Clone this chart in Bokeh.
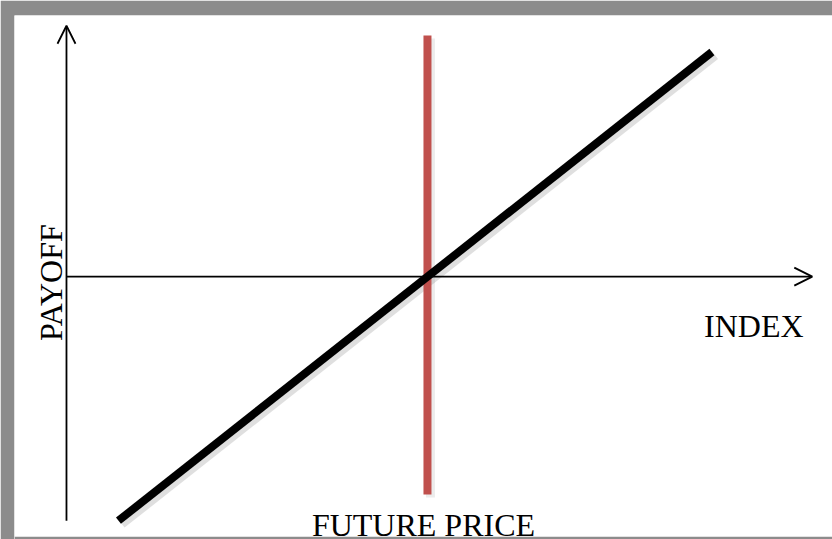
from bokeh.plotting import figure
from bokeh.models import Range1d, Arrow, OpenHead, BoxAnnotation
from bokeh.embed import file_html
from bokeh.resources import INLINE
from bokeh.core.properties import value
import numpy as np

# ---- data (conceptual units) ----
future_price = 50.0
index_axis = [0.0, 103.3]          # horizontal axis extent (INDEX)
payoff_axis = [-42.8, 44.0]        # vertical axis extent (PAYOFF)
payoff_index = [7.2, 89.4]         # long-future payoff line, index values
payoff_values = [p - future_price for p in payoff_index]
price_line_payoff = [-38.2, 42.3]  # extent of the future-price marker
labels = ["INDEX", "FUTURE PRICE", "PAYOFF"]

SX = 7.22  # px per index unit
SY = 5.70  # px per payoff unit

p = figure(width=832, height=539, output_backend="svg", toolbar_location=None,
           x_range=Range1d(-7.2, 106.1), y_range=Range1d(-46.1, 45.8),
           min_border_left=14, min_border_top=15, min_border_right=0, min_border_bottom=0)
p.axis.visible = False
p.grid.visible = False
p.outline_line_color = None
p.border_fill_color = "#8c8c8c"
p.background_fill_color = "white"

# bottom frame strip
p.add_layout(BoxAnnotation(top=-45.6, fill_color="#8c8c8c", fill_alpha=1.0, line_color=None))

# axes with arrow heads
p.add_layout(Arrow(end=OpenHead(size=18, line_width=1.8, line_color="black"),
                   x_start=index_axis[0], y_start=0, x_end=index_axis[1], y_end=0,
                   line_width=1.8, line_color="black"))
p.add_layout(Arrow(end=OpenHead(size=18, line_width=1.8, line_color="black"),
                   x_start=0, y_start=payoff_axis[0], x_end=0, y_end=payoff_axis[1],
                   line_width=1.8, line_color="black"))

# shadows
dx, dy = 3 / SX, -3 / SY
p.line([x + dx for x in payoff_index], [y + dy for y in payoff_values],
       line_width=10, line_color="#7f7f7f", line_alpha=0.25, line_cap="butt")
p.line([future_price + dx] * 2, [y + dy for y in price_line_payoff],
       line_width=9, line_color="#7f7f7f", line_alpha=0.15, line_cap="butt")

# future price marker
p.line([future_price] * 2, price_line_payoff, line_width=8,
       line_color="#c0504d", line_cap="butt")

# payoff line
p.line(payoff_index, payoff_values, line_width=8, line_color="black", line_cap="butt")

font = value("Liberation Serif")
p.text(x=[95.2], y=[-8.6], text=[labels[0]], text_font=font, text_font_size="32px",
       text_align="center", text_baseline="alphabetic", text_color="black")
p.text(x=[future_price], y=[-43.5], text=[labels[1]], text_font=font, text_font_size="32px",
       text_align="center", text_baseline="alphabetic", text_color="black", x_offset=-4)
p.text(x=[-2.2], y=[-1.05], text=[labels[2]], text_font=font, text_font_size="32px",
       text_align="center", text_baseline="alphabetic", text_color="black", angle=np.pi / 2)

open("out.html", "w").write(file_html(p, INLINE))
